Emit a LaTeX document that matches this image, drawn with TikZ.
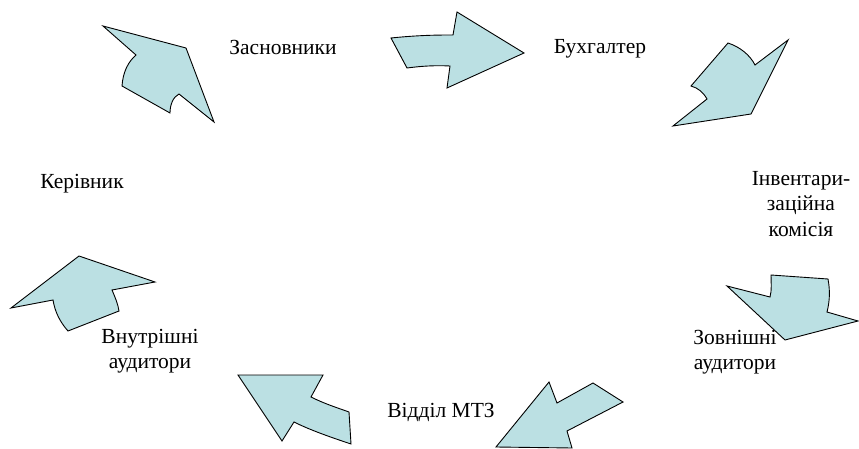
\documentclass[tikz,border=0pt]{standalone}
\usepackage{fontspec}
\setmainfont{Liberation Serif}
\usepackage{tikz}
\usetikzlibrary{positioning}
\definecolor{arrfill}{RGB}{187,224,227}
\tikzset{
  txt/.style={
    align=center, inner sep=0pt, font=\fontsize{21.5}{25.5}\selectfont
  },
  blk/.style={
    draw=black, fill=arrfill, line width=0.9pt, line join=miter
  },
}

\begin{document}
\begin{tikzpicture}[x=1pt,y=-1pt]
  \useasboundingbox (0,0) rectangle (859,449);

  % labels
  \node[txt] (zasn) at (283,47) {Засновники};
  \node[txt] (buh) at (600,49) {Бухгалтер};
  \node[txt] (inv) at (801,204) {Інвентари-\\заційна\\комісія};
  \node[txt] (zovn) at (735,352) {Зовнішні\\аудитори};
  \node[txt] (mtz) at (441,412) {Відділ МТЗ};
  \node[txt] (vnutr) at (150,351) {Внутрішні\\аудитори};
  \node[txt] (ker) at (82,184) {Керівник};

  % block arrows
  \draw[blk] (103,26) -- (186,48) -- (214,122) -- (179,94)
    .. controls (173,97) and (170,105) .. (170,113) -- (122,86)
    .. controls (123,72) and (128,62) .. (136,55) -- cycle;
  \draw[blk] (391,38) .. controls (420,35) and (440,35) .. (453,35)
    -- (457,12) -- (524,53) -- (447,88) -- (450,66)
    .. controls (430,65) and (415,67) .. (407,68) -- cycle;
  \draw[blk] (788,40) -- (751,114) -- (673,126) -- (707,99)
    .. controls (703,92) and (698,88) .. (691,86) -- (728,43)
    .. controls (740,47) and (750,55) .. (755,65) -- cycle;
  \draw[blk] (727,286) -- (770,297)
    .. controls (772,290) and (771,282) .. (771,275) -- (828,279)
    .. controls (830,290) and (830,300) .. (827,312) -- (858,321)
    -- (785,340) -- cycle;
  \draw[blk] (549,382) -- (557,403) -- (593,383) -- (623,402)
    -- (567,431) -- (572,448) -- (496,447) -- cycle;
  \draw[blk] (238,375) -- (323,375) -- (311,397)
    .. controls (325,404) and (338,408) .. (349,412) -- (351,444)
    .. controls (330,437) and (310,430) .. (294,422) -- (282,441) -- cycle;
  \draw[blk] (11,308) -- (79,256) -- (155,282) -- (112,290)
    .. controls (115,297) and (118,304) .. (119,311) -- (68,331)
    .. controls (60,322) and (55,312) .. (53,300) -- cycle;
\end{tikzpicture}
\end{document}
